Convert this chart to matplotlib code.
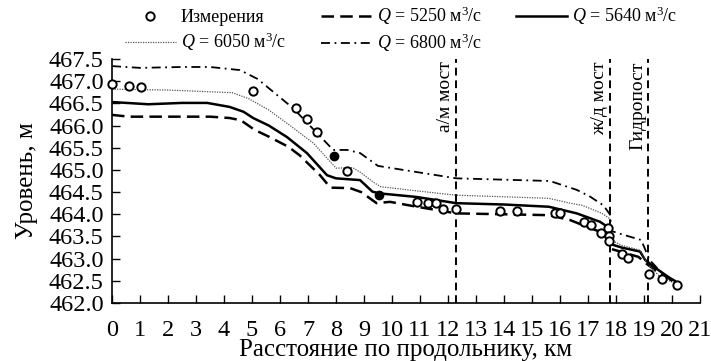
import numpy as np
import matplotlib
matplotlib.use("Agg")
from matplotlib import pyplot as plt

plt.rcParams['font.family'] = ['Liberation Serif', 'DejaVu Serif']
plt.rcParams['mathtext.fontset'] = 'custom'
plt.rcParams['mathtext.rm'] = 'Liberation Serif'
plt.rcParams['mathtext.it'] = 'Liberation Serif:italic'

# water level profiles for different discharges
x_5250 = [0, 0.6, 2, 3.5, 4.2, 4.6, 5.1, 5.6, 6.3, 6.7, 7.43, 7.8, 8.5, 8.9, 9.45, 9.93,
          10.88, 12.3, 14.0, 15.6, 16.36, 17.07, 17.54, 17.78, 17.82, 18.2, 18.8, 19.14,
          19.5, 19.9, 20.2]
y_5250 = [466.24, 466.2, 466.2, 466.2, 466.17, 466.12, 465.9, 465.75, 465.52, 465.33, 464.88,
          464.6, 464.59, 464.5, 464.25, 464.28, 464.17, 464.02, 464.0, 463.98, 463.87, 463.69,
          463.58, 463.45, 463.22, 463.15, 463.04, 462.86, 462.7, 462.56, 462.45]

x_5640 = [0, 1.3, 2.5, 3.4, 4.2, 4.7, 5.04, 5.6, 6.25, 6.96, 7.68, 8.0, 8.86, 9.3, 9.57,
          10.88, 12.3, 14.0, 15.6, 16.6, 17.43, 17.76, 17.8, 18.2, 18.86, 19.04, 19.5,
          19.93, 20.1]
y_5640 = [466.53, 466.48, 466.51, 466.51, 466.42, 466.31, 466.17, 466.0, 465.74, 465.38,
          464.88, 464.81, 464.77, 464.51, 464.47, 464.39, 464.25, 464.22, 464.17, 464.02,
          463.83, 463.69, 463.33, 463.25, 463.16, 462.97, 462.75, 462.56, 462.5]

x_6050 = [0, 2, 4.3, 4.9, 5.6, 6.36, 7.2, 8.0, 8.6, 8.86, 9.39, 9.6, 11.7, 12.3, 15.6,
          16.36, 16.8, 17.5, 17.78, 17.82, 18.2, 18.86, 19.1, 19.57, 20.2]
y_6050 = [466.82, 466.8, 466.74, 466.6, 466.35, 466.0, 465.6, 465.04, 465.05, 464.95,
          464.7, 464.62, 464.47, 464.43, 464.36, 464.25, 464.2, 464.02, 463.9, 463.42,
          463.3, 463.19, 462.9, 462.59, 462.42]

x_6800 = [0, 1, 2.5, 3.5, 4.57, 5.2, 6.47, 7.9, 8.4, 8.86, 9.5, 12.3, 15.64, 16.6, 17.07,
          17.55, 17.78, 17.85, 18.2, 18.9, 19.2, 19.6, 20.17]
y_6800 = [467.34, 467.3, 467.32, 467.32, 467.25, 467.05, 466.39, 465.45, 465.45, 465.38,
          465.09, 464.81, 464.75, 464.55, 464.4, 464.2, 464.0, 463.62, 463.55, 463.42,
          462.97, 462.7, 462.4]

# measurements
meas_x = [0, 0.61, 1.04, 5.02, 6.56, 6.95, 7.33, 8.4, 10.88, 11.3, 11.57, 11.81, 12.29,
          13.86, 14.45, 15.82, 16.0, 16.86, 17.1, 17.45, 17.72, 17.74, 17.76, 18.2, 18.44,
          19.19, 19.63, 20.19]
meas_y = [466.93, 466.9, 466.87, 466.78, 466.4, 466.15, 465.86, 464.97, 464.28, 464.25,
          464.25, 464.13, 464.12, 464.07, 464.07, 464.02, 464.02, 463.83, 463.76, 463.57,
          463.7, 463.5, 463.4, 463.1, 463.02, 462.65, 462.53, 462.41]
meas_filled_x = [7.93, 9.55]
meas_filled_y = [465.32, 464.43]

# landmarks along the profile
mark_x = [12.29, 17.79, 19.14]
mark_names = ['а/м мост', 'ж/д мост', 'Гидропост']

fig = plt.figure(figsize=(7.11, 3.61), dpi=100)
ax = fig.add_axes([112 / 711, 58 / 361, 588 / 711, 244 / 361])

l_meas, = ax.plot(meas_x, meas_y, 'o', ms=6, mfc='white', mec='black', mew=1.4,
                  clip_on=False, zorder=5, label='Измерения')
ax.plot(meas_filled_x, meas_filled_y, 'o', ms=6, color='black', zorder=5)

l1, = ax.plot(x_5250, y_5250, color='black', lw=1.8, ls=(0, (5, 2.5)),
              label=r'$Q$ = 5250 м$^3$/с')
l2, = ax.plot(x_5640, y_5640, color='black', lw=1.8, label=r'$Q$ = 5640 м$^3$/с')
l3, = ax.plot(x_6050, y_6050, color='#555555', lw=0.9, ls=(0, (1, 1)),
              label=r'$Q$ = 6050 м$^3$/с')
l4, = ax.plot(x_6800, y_6800, color='black', lw=1.3, ls=(0, (5, 2.5, 1, 2.5)),
              label=r'$Q$ = 6800 м$^3$/с')

for xm, name in zip(mark_x, mark_names):
    ax.axvline(xm, color='black', lw=1.4, ls=(0, (4, 2.5)))
    ax.text(xm - 0.06, 467.45, name, rotation=90, ha='right', va='top', fontsize=14)

ax.set_xlim(0, 21)
ax.set_ylim(462.0, 467.5)
ax.set_xticks(np.arange(0, 22, 1))
ax.set_yticks(np.arange(462.0, 467.6, 0.5))
ax.set_yticklabels(['%.1f' % v for v in np.arange(462.0, 467.6, 0.5)])
ax.tick_params(direction='in', length=6, width=1, labelsize=17.5, pad=6)
ax.tick_params(axis='x', pad=12)
ax.spines['top'].set_visible(False)
ax.spines['right'].set_visible(False)
for s in ['left', 'bottom']:
    ax.spines[s].set_linewidth(1.2)

ax.set_xlabel('Расстояние по продольнику, км', fontsize=18, labelpad=-1)
ax.set_ylabel('Уровень, м', fontsize=18, labelpad=8)

fig.legend(handles=[l_meas, l3, l1, l4, l2], ncol=3, loc='upper left',
           bbox_to_anchor=(125 / 711, 1 - 5 / 361), frameon=False, fontsize=13,
           handlelength=2.8, handletextpad=0.3, columnspacing=1.9, labelspacing=0.25,
           borderaxespad=0, borderpad=0)

plt.savefig('out.png', dpi=100)
